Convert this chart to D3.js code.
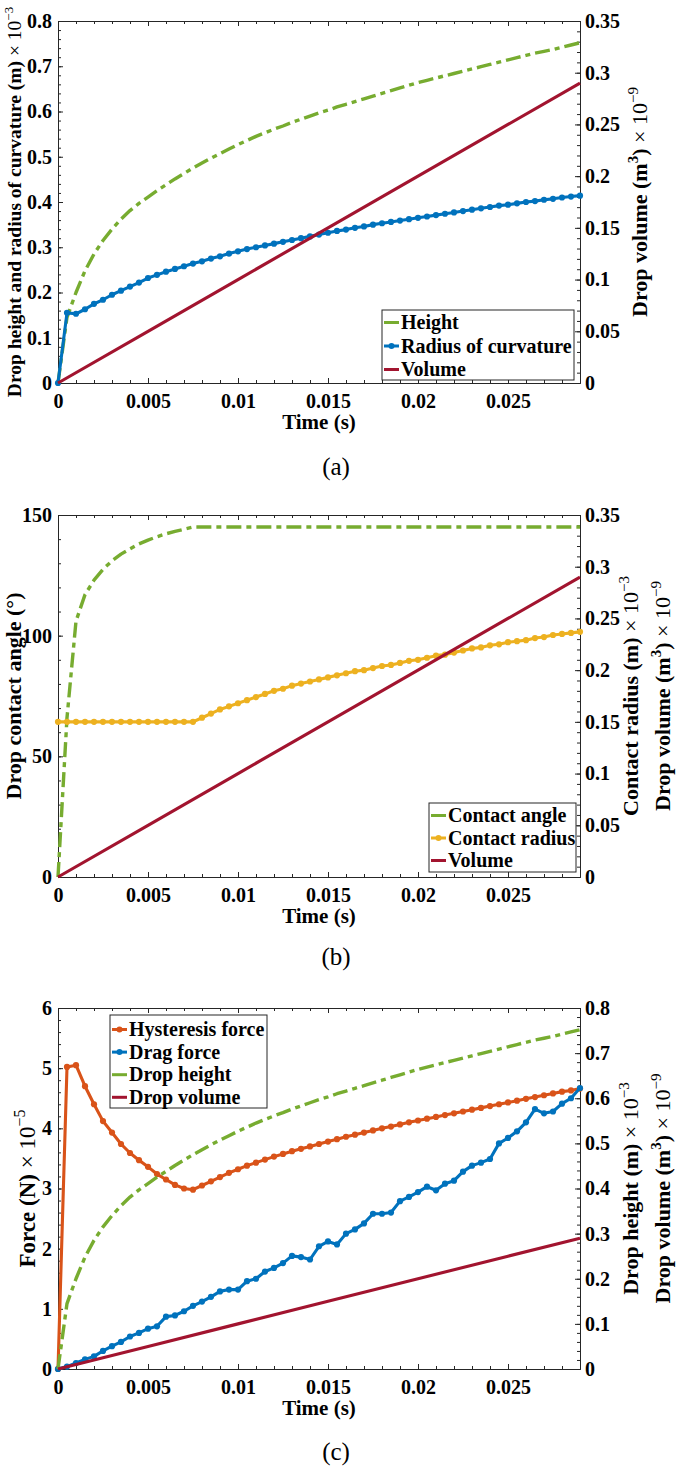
<!DOCTYPE html>
<html><head><meta charset="utf-8">
<script src="https://cdn.jsdelivr.net/npm/d3@7"></script>
<style>body{margin:0;background:#fff}svg{display:block}</style>
</head><body>
<svg id="chart" width="685" height="1468"></svg>
<script>
// ---------- data ----------
const timeS = [0,0.0005,0.001,0.0015,0.002,0.0025,0.003,0.0035,0.004,0.0045,0.005,0.0055,0.006,0.0065,0.007,0.0075,0.008,0.0085,0.009,0.0095,0.01,0.0105,0.011,0.0115,0.012,0.0125,0.013,0.0135,0.014,0.0145,0.015,0.0155,0.016,0.0165,0.017,0.0175,0.018,0.0185,0.019,0.0195,0.02,0.0205,0.021,0.0215,0.022,0.0225,0.023,0.0235,0.024,0.0245,0.025,0.0255,0.026,0.0265,0.027,0.0275,0.028,0.0285,0.029];
const dropHeight = [0,0.145,0.200,0.248,0.285,0.315,0.340,0.362,0.381,0.397,0.411,0.425,0.438,0.451,0.463,0.475,0.486,0.497,0.507,0.517,0.527,0.536,0.545,0.553,0.561,0.568,0.576,0.583,0.590,0.597,0.603,0.610,0.616,0.622,0.628,0.634,0.640,0.646,0.652,0.658,0.664,0.669,0.674,0.679,0.684,0.689,0.694,0.699,0.704,0.709,0.714,0.719,0.724,0.729,0.733,0.737,0.742,0.747,0.752];
const radiusCurvature = [0,0.155,0.153,0.163,0.175,0.184,0.195,0.204,0.213,0.222,0.232,0.239,0.246,0.252,0.258,0.264,0.269,0.275,0.280,0.286,0.291,0.296,0.300,0.304,0.308,0.312,0.316,0.320,0.324,0.328,0.332,0.336,0.339,0.343,0.346,0.350,0.353,0.356,0.359,0.362,0.365,0.368,0.371,0.374,0.377,0.380,0.383,0.386,0.389,0.392,0.394,0.397,0.400,0.402,0.405,0.407,0.410,0.412,0.414];
const volumeTime = [0,0.005,0.01,0.015,0.02,0.025,0.029];
const dropVolume = [0,0.05,0.10,0.15,0.20,0.25,0.29];
const contactAngle = [0,66,106,117,123,127.5,131,133.8,136,138,139.6,141,142.2,143.2,144.1,145,145,145,145,145,145,145,145,145,145,145,145,145,145,145,145,145,145,145,145,145,145,145,145,145,145,145,145,145,145,145,145,145,145,145,145,145,145,145,145,145,145,145,145];
const contactRadius = [0.15,0.15,0.15,0.15,0.15,0.15,0.15,0.15,0.15,0.15,0.15,0.15,0.15,0.15,0.15,0.15,0.154,0.158,0.162,0.165,0.168,0.171,0.174,0.177,0.180,0.182,0.185,0.187,0.189,0.191,0.193,0.195,0.197,0.199,0.200,0.202,0.204,0.205,0.207,0.209,0.210,0.212,0.214,0.215,0.217,0.219,0.221,0.222,0.224,0.225,0.227,0.228,0.229,0.231,0.232,0.234,0.235,0.236,0.237];
const hysteresisForce = [0,5.02,5.05,4.70,4.40,4.12,3.93,3.74,3.59,3.47,3.36,3.24,3.15,3.06,3.00,2.98,3.05,3.12,3.19,3.26,3.32,3.38,3.43,3.48,3.53,3.575,3.62,3.66,3.70,3.74,3.78,3.82,3.86,3.895,3.93,3.965,4.00,4.03,4.065,4.10,4.13,4.16,4.19,4.22,4.25,4.28,4.31,4.34,4.37,4.40,4.43,4.46,4.49,4.52,4.55,4.58,4.61,4.63,4.66];
const dragForce = [0,0.04,0.10,0.16,0.21,0.30,0.38,0.45,0.54,0.60,0.67,0.71,0.87,0.89,0.96,1.05,1.12,1.20,1.29,1.32,1.32,1.46,1.50,1.62,1.68,1.76,1.88,1.86,1.82,2.04,2.12,2.07,2.25,2.32,2.42,2.58,2.58,2.60,2.79,2.86,2.94,3.03,2.97,3.08,3.13,3.28,3.38,3.43,3.49,3.75,3.84,3.95,4.10,4.32,4.25,4.28,4.41,4.50,4.67];

const xTicks = [0,0.005,0.01,0.015,0.02,0.025];
const xTickLabels = ["0","0.005","0.01","0.015","0.02","0.025"];
const leftTicksA = [0,0.1,0.2,0.3,0.4,0.5,0.6,0.7,0.8];
const leftTickLabelsA = ["0","0.1","0.2","0.3","0.4","0.5","0.6","0.7","0.8"];
const rightTicksAB = [0,0.05,0.1,0.15,0.2,0.25,0.3,0.35];
const rightTickLabelsAB = ["0","0.05","0.1","0.15","0.2","0.25","0.3","0.35"];
const leftTicksB = [0,50,100,150];
const leftTickLabelsB = ["0","50","100","150"];
const leftTicksC = [0,1,2,3,4,5,6];
const leftTickLabelsC = ["0","1","2","3","4","5","6"];
const rightTicksC = [0,0.1,0.2,0.3,0.4,0.5,0.6,0.7,0.8];
const rightTickLabelsC = ["0","0.1","0.2","0.3","0.4","0.5","0.6","0.7","0.8"];

const C = {green:"#77AC30", blue:"#0072BD", red:"#A2142F", yellow:"#EDB120", orange:"#D95319"};
const FONT = "'Liberation Serif','Times New Roman',serif";

const svg = d3.select("#chart");
const L = 58, R = 580;
const x = d3.scaleLinear().domain([0,0.029]).range([L,R]);

function zip(xs, ys){ return xs.map((t,i)=>[t, ys[i]]); }

function drawPanel(p){
  const g = svg.append("g");
  const yL = d3.scaleLinear().domain(p.leftDomain).range([p.bottom,p.top]);
  const yR = d3.scaleLinear().domain(p.rightDomain).range([p.bottom,p.top]);
  const axisColor = "#262626";
  const styleAxis = sel => {
    sel.select(".domain").attr("stroke", axisColor);
    sel.selectAll(".tick line").attr("stroke", axisColor);
    sel.selectAll("text").attr("font-family", FONT).attr("font-weight","bold").attr("font-size",20).attr("fill","#000");
    sel.attr("font-family", null).attr("font-size", null);
  };
  const minor = (dom, step) => d3.range(Math.round((dom[1]-dom[0])/step)+1).map(i=>dom[0]+i*step);

  // minor ticks
  g.append("g").attr("transform",`translate(0,${p.bottom})`).call(d3.axisBottom(x).tickValues(minor([0,0.029],0.001)).tickSize(-3).tickSizeOuter(0).tickFormat("")).call(styleAxis);
  g.append("g").attr("transform",`translate(0,${p.top})`).call(d3.axisTop(x).tickValues(minor([0,0.029],0.001)).tickSize(-3).tickSizeOuter(0).tickFormat("")).call(styleAxis);
  g.append("g").attr("transform",`translate(${L},0)`).call(d3.axisLeft(yL).tickValues(minor(p.leftDomain,p.leftMinor)).tickSize(-3).tickSizeOuter(0).tickFormat("")).call(styleAxis);
  g.append("g").attr("transform",`translate(${R},0)`).call(d3.axisRight(yR).tickValues(minor(p.rightDomain,p.rightMinor)).tickSize(-3).tickSizeOuter(0).tickFormat("")).call(styleAxis);
  // major ticks
  g.append("g").attr("transform",`translate(0,${p.bottom})`).call(d3.axisBottom(x).tickValues(xTicks).tickSize(-5).tickSizeOuter(0).tickPadding(11).tickFormat((d,i)=>xTickLabels[i])).call(styleAxis);
  g.append("g").attr("transform",`translate(0,${p.top})`).call(d3.axisTop(x).tickValues(xTicks).tickSize(-5).tickSizeOuter(0).tickFormat("")).call(styleAxis);
  g.append("g").attr("transform",`translate(${L},0)`).call(d3.axisLeft(yL).tickValues(p.leftTicks).tickSize(-5).tickSizeOuter(0).tickPadding(6).tickFormat((d,i)=>p.leftLabels[i])).call(styleAxis);
  g.append("g").attr("transform",`translate(${R},0)`).call(d3.axisRight(yR).tickValues(p.rightTicks).tickSize(-5).tickSizeOuter(0).tickPadding(5).tickFormat((d,i)=>p.rightLabels[i])).call(styleAxis);

  // series
  const scaleOf = s => s.axis === "left" ? yL : yR;
  p.series.forEach(s=>{
    const ys = scaleOf(s);
    const line = d3.line().x(d=>x(d[0])).y(d=>ys(d[1]));
    const data = zip(s.t, s.v);
    g.append("path").datum(data).attr("d",line).attr("fill","none")
      .attr("stroke",s.color).attr("stroke-width", s.dash ? 3.4 : 3.1)
      .attr("stroke-dasharray", s.dash ? "15,5,5,5" : null)
      .attr("stroke-linejoin","round");
    if (s.marker){
      g.append("g").selectAll("circle").data(data).join("circle")
        .attr("cx",d=>x(d[0])).attr("cy",d=>ys(d[1])).attr("r",3.1).attr("fill",s.color);
    }
  });

  // x title
  g.append("text").attr("x",(L+R)/2).attr("y",p.bottom+46).attr("text-anchor","middle")
    .attr("font-family",FONT).attr("font-weight","bold").attr("font-size",21).text("Time (s)");

  // axis titles
  const title = (tt, cy) => {
    const fs = tt.fs || 21;
    const t = g.append("text").attr("transform",`translate(${tt.x},${cy}) rotate(-90)`)
      .attr("text-anchor","middle").attr("font-family",FONT).attr("font-size",fs).attr("fill","#000");
    tt.parts.forEach(pt=>{
      const ts = t.append("tspan").text(pt.s).attr("font-weight", pt.n ? "normal" : "bold");
      if (pt.sup) ts.attr("font-size",Math.round(fs*0.68)).attr("dy",-fs*0.42);
      if (pt.down) ts.attr("dy",fs*0.42);
    });
  };
  p.titles.forEach(tt=>title(tt, (p.top+p.bottom)/2));

  // legend
  const lg = p.legend;
  g.append("rect").attr("x",lg.x).attr("y",lg.y).attr("width",lg.w).attr("height",lg.h)
    .attr("fill","#fff").attr("stroke","#262626").attr("stroke-width",1);
  p.series.forEach((s,i)=>{
    const by = lg.y + lg.first + i*lg.step;
    const cy = by - 6.5;
    g.append("line").attr("x1",lg.x+2).attr("x2",lg.x+17).attr("y1",cy).attr("y2",cy)
      .attr("stroke",s.color).attr("stroke-width",3);
    if (s.marker) g.append("circle").attr("cx",lg.x+9.5).attr("cy",cy).attr("r",3).attr("fill",s.color);
    g.append("text").attr("x",lg.x+19).attr("y",by).attr("font-family",FONT).attr("font-weight","bold")
      .attr("font-size",20).text(s.name);
  });

  // panel letter
  svg.append("text").attr("x",336).attr("y",p.letterY).attr("text-anchor","middle")
    .attr("font-family",FONT).attr("font-size",25).text(p.letter);
}

const sup = (s)=>({s, sup:true, n:true});
drawPanel({
  top:21, bottom:383, leftDomain:[0,0.8], rightDomain:[0,0.35], leftMinor:0.02, rightMinor:0.01,
  leftTicks:leftTicksA, leftLabels:leftTickLabelsA, rightTicks:rightTicksAB, rightLabels:rightTickLabelsAB,
  series:[
    {name:"Height", t:timeS, v:dropHeight, axis:"left", color:C.green, dash:true},
    {name:"Radius of curvature", t:timeS, v:radiusCurvature, axis:"left", color:C.blue, marker:true},
    {name:"Volume", t:volumeTime, v:dropVolume, axis:"right", color:C.red}
  ],
  titles:[
    {x:21, fs:19.5, parts:[{s:"Drop height and radius of curvature (m) "},{s:"× 10",n:true},sup("−3")]},
    {x:647, fs:22, parts:[{s:"Drop volume (m"},{s:"3",sup:true},{s:") ",down:true},{s:"× 10",n:true},sup("−9")]}
  ],
  legend:{x:382, y:310, w:192, h:70, first:19, step:23.5},
  letter:"(a)", letterY:475
});
drawPanel({
  top:515, bottom:877, leftDomain:[0,150], rightDomain:[0,0.35], leftMinor:10, rightMinor:0.01,
  leftTicks:leftTicksB, leftLabels:leftTickLabelsB, rightTicks:rightTicksAB, rightLabels:rightTickLabelsAB,
  series:[
    {name:"Contact angle", t:timeS, v:contactAngle, axis:"left", color:C.green, dash:true},
    {name:"Contact radius", t:timeS, v:contactRadius, axis:"right", color:C.yellow, marker:true},
    {name:"Volume", t:volumeTime, v:dropVolume, axis:"right", color:C.red}
  ],
  titles:[
    {x:21, fs:22, parts:[{s:"Drop contact angle (°)"}]},
    {x:638, fs:22, parts:[{s:"Contact radius (m) "},{s:"× 10",n:true},sup("−3")]},
    {x:670, fs:22, parts:[{s:"Drop volume (m"},{s:"3",sup:true},{s:") ",down:true},{s:"× 10",n:true},sup("−9")]}
  ],
  legend:{x:429, y:803, w:147, h:69, first:19, step:22.5},
  letter:"(b)", letterY:965
});
drawPanel({
  top:1008, bottom:1369, leftDomain:[0,6], rightDomain:[0,0.8], leftMinor:0.2, rightMinor:0.02,
  leftTicks:leftTicksC, leftLabels:leftTickLabelsC, rightTicks:rightTicksC, rightLabels:rightTickLabelsC,
  series:[
    {name:"Hysteresis force", t:timeS, v:hysteresisForce, axis:"left", color:C.orange, marker:true},
    {name:"Drag force", t:timeS, v:dragForce, axis:"left", color:C.blue, marker:true},
    {name:"Drop height", t:timeS, v:dropHeight, axis:"right", color:C.green, dash:true},
    {name:"Drop volume", t:volumeTime, v:dropVolume, axis:"right", color:C.red}
  ],
  titles:[
    {x:35, fs:23, parts:[{s:"Force (N) "},{s:"× 10",n:true},sup("−5")]},
    {x:638, fs:22, parts:[{s:"Drop height (m) "},{s:"× 10",n:true},sup("−3")]},
    {x:670, fs:22, parts:[{s:"Drop volume (m"},{s:"3",sup:true},{s:") ",down:true},{s:"× 10",n:true},sup("−9")]}
  ],
  legend:{x:110, y:1015, w:157, h:93, first:21, step:22.6},
  letter:"(c)", letterY:1460
});
</script>
</body></html>
